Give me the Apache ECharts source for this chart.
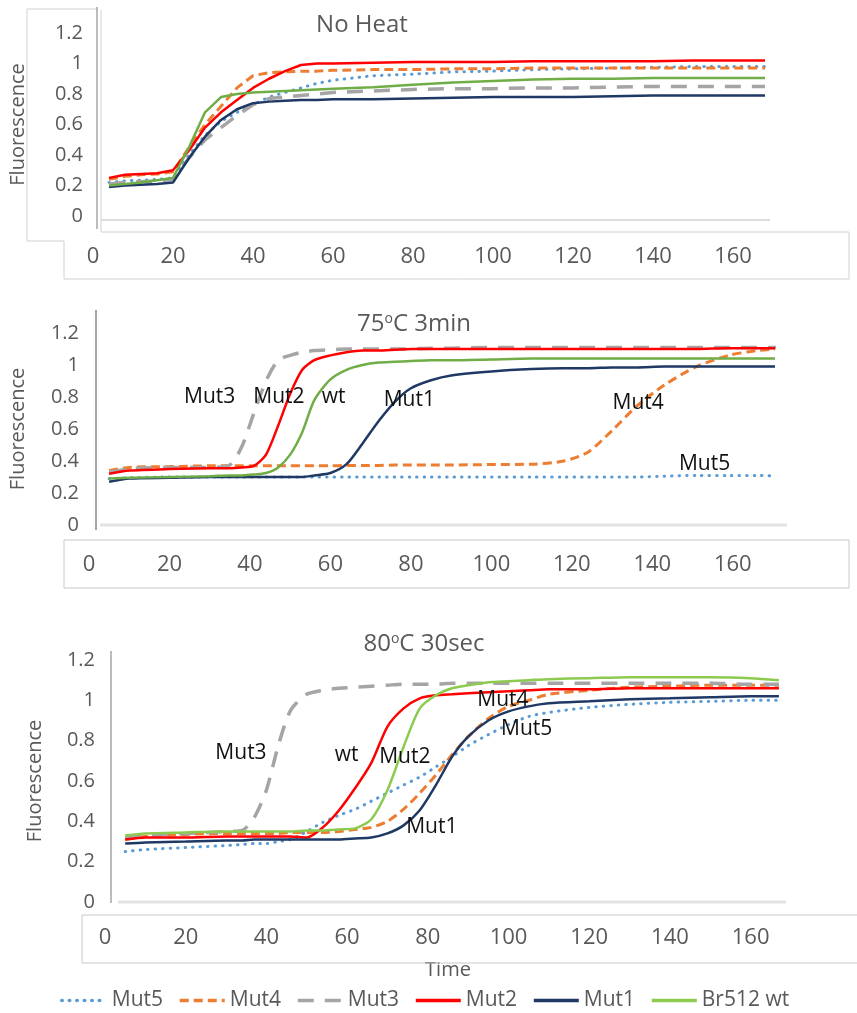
<!DOCTYPE html>
<html>
<head>
<meta charset="utf-8">
<script src="https://cdn.jsdelivr.net/npm/echarts@6/dist/echarts.min.js"></script>
<style>
  html, body { margin: 0; padding: 0; background: #fff; }
  #chart { width: 857px; height: 1013px; }
</style>
</head>
<body>
<div id="chart"></div>
<script>
// series names, in the legend order
var names = ['Mut5', 'Mut4', 'Mut3', 'Mut2', 'Mut1', 'Br512 wt'];
var xTicks = [0, 20, 40, 60, 80, 100, 120, 140, 160];

// panel 1 : No Heat
var t1 = [4, 8, 12, 16, 20, 24, 28, 32, 36, 40, 44, 48, 52, 56, 60, 70, 80, 90, 100, 110, 120, 130, 140, 150, 160, 168];
var noHeatMut5 = [0.22, 0.23, 0.235, 0.24, 0.25, 0.40, 0.53, 0.62, 0.68, 0.73, 0.78, 0.81, 0.84, 0.87, 0.89, 0.92, 0.93, 0.945, 0.95, 0.96, 0.965, 0.97, 0.975, 0.98, 0.98, 0.98];
var noHeatMut4 = [0.24, 0.26, 0.27, 0.275, 0.29, 0.45, 0.60, 0.72, 0.84, 0.92, 0.94, 0.945, 0.95, 0.95, 0.955, 0.96, 0.96, 0.965, 0.965, 0.97, 0.97, 0.97, 0.97, 0.97, 0.97, 0.97];
var noHeatMut3 = [0.21, 0.22, 0.225, 0.23, 0.24, 0.38, 0.50, 0.58, 0.66, 0.73, 0.77, 0.78, 0.79, 0.80, 0.81, 0.82, 0.83, 0.835, 0.835, 0.84, 0.84, 0.845, 0.85, 0.85, 0.85, 0.85];
var noHeatMut2 = [0.25, 0.27, 0.275, 0.28, 0.30, 0.43, 0.58, 0.68, 0.76, 0.84, 0.90, 0.95, 0.99, 1.0, 1.0, 1.005, 1.01, 1.01, 1.01, 1.015, 1.015, 1.015, 1.015, 1.02, 1.02, 1.02];
var noHeatMut1 = [0.19, 0.20, 0.205, 0.21, 0.22, 0.38, 0.52, 0.63, 0.70, 0.74, 0.75, 0.755, 0.76, 0.76, 0.765, 0.765, 0.77, 0.775, 0.78, 0.78, 0.78, 0.785, 0.79, 0.79, 0.79, 0.79];
var noHeatWt = [0.20, 0.21, 0.22, 0.235, 0.25, 0.45, 0.68, 0.78, 0.80, 0.81, 0.815, 0.82, 0.825, 0.83, 0.835, 0.845, 0.86, 0.875, 0.885, 0.895, 0.90, 0.90, 0.905, 0.905, 0.905, 0.905];

// panel 2 : 75oC 3min
var t2 = [5, 10, 20, 30, 35, 38, 41, 44, 47, 50, 53, 56, 60, 64, 68, 72, 76, 80, 85, 90, 100, 110, 118, 124, 130, 136, 143, 151, 159, 166, 171];
var h75Mut5 = [0.29, 0.295, 0.30, 0.30, 0.30, 0.30, 0.30, 0.30, 0.30, 0.30, 0.30, 0.30, 0.30, 0.30, 0.30, 0.30, 0.30, 0.30, 0.30, 0.30, 0.30, 0.30, 0.30, 0.30, 0.30, 0.30, 0.305, 0.31, 0.31, 0.31, 0.305];
var h75Mut4 = [0.34, 0.36, 0.365, 0.37, 0.37, 0.37, 0.37, 0.37, 0.37, 0.37, 0.37, 0.37, 0.37, 0.372, 0.372, 0.372, 0.375, 0.375, 0.375, 0.375, 0.378, 0.38, 0.40, 0.455, 0.59, 0.74, 0.875, 0.99, 1.06, 1.09, 1.10];
var h75Mut3 = [0.33, 0.35, 0.36, 0.36, 0.375, 0.49, 0.70, 0.90, 1.03, 1.06, 1.08, 1.09, 1.095, 1.10, 1.10, 1.10, 1.10, 1.10, 1.105, 1.105, 1.11, 1.11, 1.11, 1.11, 1.11, 1.11, 1.11, 1.11, 1.11, 1.11, 1.11];
var h75Mut2 = [0.32, 0.34, 0.35, 0.355, 0.355, 0.36, 0.37, 0.44, 0.62, 0.82, 0.97, 1.03, 1.06, 1.08, 1.09, 1.09, 1.095, 1.10, 1.10, 1.10, 1.10, 1.10, 1.10, 1.10, 1.10, 1.10, 1.10, 1.10, 1.105, 1.105, 1.105];
var h75Mut1 = [0.27, 0.29, 0.295, 0.30, 0.30, 0.30, 0.30, 0.30, 0.30, 0.30, 0.30, 0.31, 0.325, 0.38, 0.51, 0.65, 0.77, 0.855, 0.905, 0.935, 0.96, 0.975, 0.98, 0.98, 0.985, 0.985, 0.99, 0.99, 0.99, 0.99, 0.99];
var h75Wt = [0.29, 0.295, 0.30, 0.305, 0.31, 0.31, 0.315, 0.325, 0.36, 0.44, 0.58, 0.78, 0.91, 0.97, 1.0, 1.015, 1.02, 1.025, 1.03, 1.03, 1.035, 1.04, 1.04, 1.04, 1.04, 1.04, 1.04, 1.04, 1.04, 1.04, 1.04];

// panel 3 : 80oC 30sec
var t3 = [5, 10, 20, 30, 34, 37, 40, 43, 46, 50, 54, 58, 62, 66, 70, 74, 78, 82, 86, 90, 95, 100, 105, 110, 120, 130, 140, 150, 160, 167];
var h80Mut5 = [0.25, 0.26, 0.27, 0.28, 0.285, 0.29, 0.29, 0.30, 0.31, 0.35, 0.395, 0.43, 0.46, 0.50, 0.54, 0.58, 0.62, 0.67, 0.72, 0.775, 0.83, 0.88, 0.92, 0.94, 0.965, 0.98, 0.99, 0.995, 1.0, 1.0];
var h80Mut4 = [0.31, 0.325, 0.335, 0.34, 0.34, 0.34, 0.34, 0.34, 0.345, 0.345, 0.345, 0.35, 0.36, 0.37, 0.40, 0.46, 0.54, 0.63, 0.73, 0.82, 0.91, 0.97, 1.0, 1.03, 1.05, 1.065, 1.07, 1.075, 1.075, 1.075];
var h80Mut3 = [0.32, 0.33, 0.34, 0.35, 0.355, 0.42, 0.555, 0.78, 0.95, 1.03, 1.05, 1.06, 1.065, 1.07, 1.075, 1.08, 1.08, 1.08, 1.085, 1.085, 1.085, 1.085, 1.085, 1.085, 1.085, 1.085, 1.085, 1.085, 1.08, 1.08];
var h80Mut2 = [0.31, 0.32, 0.32, 0.325, 0.325, 0.325, 0.325, 0.325, 0.325, 0.32, 0.37, 0.455, 0.565, 0.69, 0.87, 0.96, 1.01, 1.025, 1.03, 1.035, 1.04, 1.045, 1.05, 1.055, 1.055, 1.06, 1.06, 1.06, 1.06, 1.06];
var h80Mut1 = [0.29, 0.295, 0.30, 0.305, 0.305, 0.31, 0.31, 0.31, 0.31, 0.31, 0.31, 0.31, 0.315, 0.32, 0.34, 0.38, 0.455, 0.58, 0.72, 0.82, 0.90, 0.945, 0.97, 0.985, 0.995, 1.005, 1.01, 1.015, 1.02, 1.02];
var h80Wt = [0.33, 0.34, 0.345, 0.35, 0.35, 0.35, 0.35, 0.35, 0.35, 0.355, 0.355, 0.36, 0.365, 0.41, 0.555, 0.77, 0.96, 1.025, 1.06, 1.075, 1.09, 1.095, 1.10, 1.105, 1.11, 1.115, 1.115, 1.115, 1.11, 1.10];

// curve labels written inside the panels: [panel, text, time, fluorescence]
var curveLabels = [
  [1, 'Mut3', 30, 0.80], [1, 'Mut2', 47.2, 0.80], [1, 'wt', 60.8, 0.80],
  [1, 'Mut1', 79.6, 0.78], [1, 'Mut4', 136.5, 0.76], [1, 'Mut5', 153, 0.38],
  [2, 'Mut3', 33.7, 0.74], [2, 'wt', 59.9, 0.73], [2, 'Mut2', 74.3, 0.72],
  [2, 'Mut1', 81, 0.37], [2, 'Mut4', 98.6, 1.0], [2, 'Mut5', 104.5, 0.86]
];

var FONT = '"Open Sans", "Noto Sans", sans-serif';
var GREY = '#595959';

var styles = {
  'Mut5': { color: '#5B9BD5', width: 3, type: [0.5, 7], cap: 'round' },
  'Mut4': { color: '#ED7D31', width: 3, type: [9, 5] },
  'Mut3': { color: '#A5A5A5', width: 3.5, type: [16, 11] },
  'Mut2': { color: '#FF0000', width: 2.5, type: 'solid' },
  'Mut1': { color: '#1F3864', width: 2.5, type: 'solid' },
  'Br512 wt': { color: '#70AD47', width: 2.5, type: 'solid' }
};

function pairs(t, v) {
  return t.map(function (x, i) { return [x, v[i]]; });
}

var panels = [
  { t: t3, vals: [h80Mut5, h80Mut4, h80Mut3, h80Mut2, h80Mut1, h80Wt], idx: 2, smooth: 0.25, wt: '#8CCB50' },
  { t: t1, vals: [noHeatMut5, noHeatMut4, noHeatMut3, noHeatMut2, noHeatMut1, noHeatWt], idx: 0, smooth: false },
  { t: t2, vals: [h75Mut5, h75Mut4, h75Mut3, h75Mut2, h75Mut1, h75Wt], idx: 1, smooth: 0.25 }
];

var series = [];
panels.forEach(function (p) {
  names.forEach(function (n, k) {
    var ls = Object.assign({}, styles[n]);
    if (n === 'Br512 wt' && p.wt) ls.color = p.wt;
    series.push({
      name: n,
      type: 'line',
      xAxisIndex: p.idx,
      yAxisIndex: p.idx,
      data: pairs(p.t, p.vals[k]),
      symbol: 'none',
      showSymbol: false,
      smooth: p.smooth,
      lineStyle: ls,
      itemStyle: { color: ls.color },
      z: 2 + k
    });
  });
});

var grids = [
  { left: 86, top: 33, width: 687, height: 183 },
  { left: 86, top: 333, width: 687, height: 192 },
  { left: 105, top: 660, width: 686, height: 242 }
];
var labelMargins = [30, 29, 25];

function xAxis(i) {
  return {
    type: 'value', gridIndex: i, min: 0, max: 170, interval: 20,
    axisLine: { show: false }, axisTick: { show: false }, splitLine: { show: false },
    axisLabel: {
      margin: labelMargins[i], fontSize: 22, color: GREY, fontFamily: FONT,
      formatter: function (v) { return xTicks.indexOf(v) >= 0 ? String(v) : ''; }
    },
    name: i === 2 ? 'Time' : '',
    nameLocation: 'middle', nameGap: 58,
    nameTextStyle: { fontSize: 20, color: GREY, fontFamily: FONT }
  };
}
var nameGaps = [65, 61, 60];
function yAxis(i) {
  return {
    type: 'value', gridIndex: i, min: 0, max: 1.2, interval: 0.2,
    axisLine: { show: false }, axisTick: { show: false }, splitLine: { show: false },
    axisLabel: {
      margin: 10, fontSize: 20, color: GREY, fontFamily: FONT,
      formatter: function (v) { return String(parseFloat(v.toFixed(1))); }
    },
    name: 'Fluorescence', nameLocation: 'middle', nameRotate: 90, nameGap: nameGaps[i],
    nameTextStyle: { fontSize: 20, color: GREY, fontFamily: FONT }
  };
}

var chart = echarts.init(document.getElementById('chart'), null, { renderer: 'canvas' });
chart.setOption({
  animation: false,
  backgroundColor: '#fff',
  grid: grids,
  xAxis: [xAxis(0), xAxis(1), xAxis(2)],
  yAxis: [yAxis(0), yAxis(1), yAxis(2)],
  legend: {
    data: names, left: 55, top: 985, itemWidth: 45, itemHeight: 14, itemGap: 15,
    itemStyle: { opacity: 0 },
    lineStyle: { width: 3.5 },
    textStyle: { fontSize: 21, color: GREY, fontFamily: FONT }
  },
  series: series
});

// frames, axis lines, titles and curve labels
function line(pts, color, w) {
  return { type: 'polyline', silent: true, z: 1, shape: { points: pts }, style: { stroke: color, lineWidth: w, fill: null } };
}
function text(x, y, str, size, color, rich) {
  return {
    type: 'text', x: x, y: y, z: 10, silent: true,
    style: { text: str, fontSize: size, fontFamily: FONT, fill: color, align: 'center', verticalAlign: 'middle', rich: rich }
  };
}
var supRich = { sup: { fontSize: 14, fontFamily: FONT, fill: GREY, verticalAlign: 'top', padding: [0, 0, 10, 0] } };

var graphics = [
  // panel 1 frame
  line([[97, 9], [27, 9], [27, 241], [64, 241], [64, 279], [849, 279], [849, 232], [101, 232], [101, 10]], '#d0d0d0', 1),
  line([[97, 7], [97, 229]], '#a6a6a6', 1.5),
  line([[101, 220], [770, 220]], '#dcdcdc', 2),
  // panel 2 frame
  line([[64, 540], [849, 540], [849, 588], [64, 588], [64, 540]], '#c8c8c8', 1),
  line([[96, 310], [96, 530]], '#a6a6a6', 2),
  line([[100, 525], [787, 525]], '#e3e3e3', 3),
  // panel 3 frame
  line([[860, 915], [82, 915], [82, 963], [860, 963]], '#c8c8c8', 1),
  line([[111, 651], [111, 903]], '#a6a6a6', 1.5),
  line([[118, 902], [786, 902]], '#e3e3e3', 3),
  // titles
  text(362, 25, 'No Heat', 24, GREY),
  text(414, 324, '75{sup|o}C 3min', 24, GREY, supRich),
  text(424, 644, '80{sup|o}C 30sec', 24, GREY, supRich)
];
curveLabels.forEach(function (c) {
  var p = chart.convertToPixel({ gridIndex: c[0] }, [c[2], c[3]]);
  graphics.push(text(p[0], p[1], c[1], 21, '#111'));
});
chart.setOption({ graphic: graphics });
</script>
</body>
</html>
